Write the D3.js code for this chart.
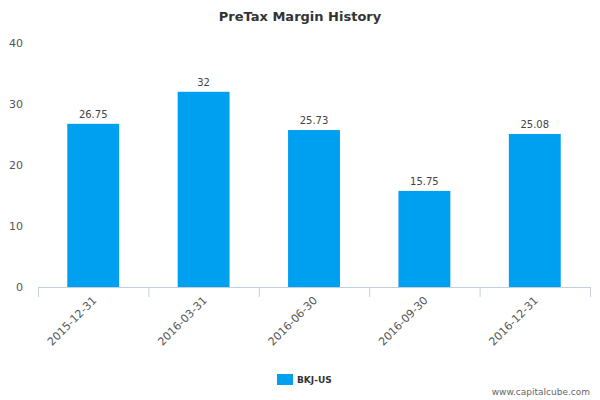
<!DOCTYPE html>
<html><head><meta charset="utf-8">
<script src="https://cdn.jsdelivr.net/npm/d3@7"></script>
<style>body{margin:0;background:#fff}text{font-family:"DejaVu Sans",sans-serif}</style>
</head><body><div id="chart"></div>
<script>
// Chart data
var categories = ["2015-12-31", "2016-03-31", "2016-06-30", "2016-09-30", "2016-12-31"];
var values = [26.75, 32, 25.73, 15.75, 25.08];
var labels = ["26.75", "32", "25.73", "15.75", "25.08"];
var yTicks = [0, 10, 20, 30, 40];

var margin = { top: 43, right: 10, bottom: 113, left: 38 },
    width = 600 - margin.left - margin.right,
    height = 400 - margin.top - margin.bottom;

var svg = d3.select('#chart').append('svg')
    .attr('width', 600).attr('height', 400);

svg.append("text").attr("x", 300).attr("y", 21).attr("text-anchor", "middle")
    .attr("font-size", 13).attr("font-weight", "bold").attr("fill", "#333")
    .text("PreTax Margin History");

var g = svg.append('g').attr('transform', 'translate(' + margin.left + ',' + margin.top + ')');

var x = d3.scaleBand().domain(categories).range([0, width]).paddingInner(0.53).paddingOuter(0.265);
var y = d3.scaleLinear().domain([0, 40]).range([height, 0]);

// y tick labels
g.selectAll(".yl").data(yTicks).enter().append("text")
    .attr("x", -15).attr("y", function (d) { return y(d) + 4; })
    .attr("text-anchor", "end").attr("font-size", 11).attr("fill", "#555")
    .text(function (d) { return d; });

// bars
g.selectAll(".bar").data(values).enter().append("rect")
    .attr("x", function (d, i) { return x(categories[i]); })
    .attr("y", function (d) { return y(d); })
    .attr("width", x.bandwidth())
    .attr("height", function (d) { return height - y(d); })
    .attr("fill", "#00a0f0");

g.selectAll(".vl").data(values).enter().append("text")
    .attr("x", function (d, i) { return x(categories[i]) + x.bandwidth() / 2; })
    .attr("y", function (d) { return y(d) - 6; })
    .attr("text-anchor", "middle").attr("font-size", 10).attr("fill", "#444")
    .text(function (d, i) { return labels[i]; });

// x axis
var step = x.step();
g.append("line").attr("x1", 0).attr("x2", width).attr("y1", height + 0.5).attr("y2", height + 0.5)
    .attr("stroke", "#c0d0e0");
d3.range(categories.length + 1).forEach(function (i) {
    g.append("line").attr("x1", i * step + 0.5).attr("x2", i * step + 0.5)
        .attr("y1", height).attr("y2", height + 10).attr("stroke", "#c0d0e0");
});
g.selectAll(".xl").data(categories).enter().append("text")
    .attr("transform", function (d) {
        return "translate(" + (x(d) + x.bandwidth() / 2 + 4) + "," + (height + 14) + ") rotate(-45)";
    })
    .attr("text-anchor", "end").attr("font-size", 11).attr("fill", "#555")
    .text(function (d) { return d; });

// legend
svg.append("rect").attr("x", 277).attr("y", 374).attr("width", 16).attr("height", 11).attr("fill", "#00a0f0");
svg.append("text").attr("x", 297).attr("y", 383).attr("font-size", 9).attr("font-weight", "bold")
    .attr("fill", "#333").text("BKJ-US");

svg.append("text").attr("x", 590).attr("y", 395).attr("text-anchor", "end")
    .attr("font-size", 9).attr("fill", "#666").text("www.capitalcube.com");
</script></body></html>
